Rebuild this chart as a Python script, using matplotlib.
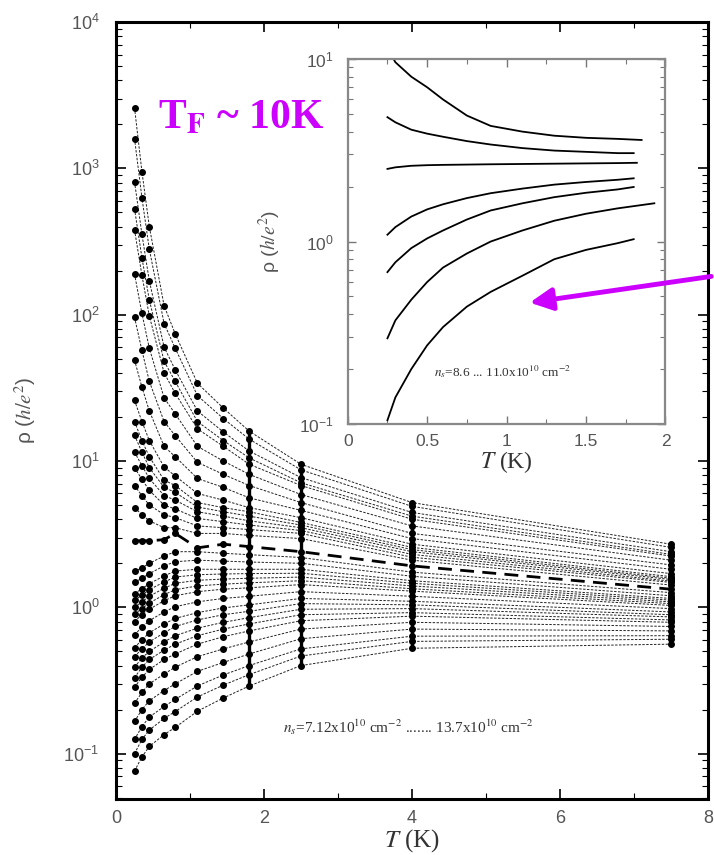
import numpy as np
import matplotlib
matplotlib.use("Agg")
import matplotlib.pyplot as plt
from matplotlib.ticker import LogLocator, NullFormatter, MultipleLocator

plt.rcParams['mathtext.fontset'] = 'stix'
plt.rcParams['font.family'] = ['Liberation Sans', 'DejaVu Sans']

# temperatures of the main plot (K)
T_main = [0.25, 0.35, 0.45, 0.65, 0.8, 1.1, 1.45, 1.8, 2.5, 4.0, 7.5]

# resistivity curves rho (h/e^2), from the most insulating to the most metallic
rho_main = [
    [2600, 950, 400, 115, 74, 34, 23, 16, 9.5, 5.2, 2.7],
    [1600, 630, 280, 87, 59, 28, 19.5, 14.1, 8.7, 4.9, 2.57],
    [810, 355, 170, 60, 42, 22, 15.8, 11.7, 7.7, 4.45, 2.4],
    [530, 245, 126, 48, 35, 18.6, 13.8, 10.5, 7.1, 4.2, 2.3],
    [380, 186, 98, 40, 29, 16.6, 12.6, 9.5, 6.8, 4.0, 2.24],
    [190, 102, 59, 27, 21, 12.6, 10, 8.1, 5.9, 3.6, 2.1],
    [96, 57, 35, 18.6, 14.9, 9.8, 8.1, 6.8, 5.2, 3.2, 1.95],
    [49, 32, 22, 12.6, 10.7, 7.6, 6.6, 5.6, 4.6, 2.95, 1.82],
    [26, 18.6, 13.8, 9.1, 7.9, 6.0, 5.4, 4.8, 4.1, 2.7, 1.70],
    [18.6, 13.8, 10.7, 7.4, 6.8, 5.2, 4.8, 4.5, 3.8, 2.57, 1.62],
    [15, 11.5, 9.0, 6.6, 6.1, 4.85, 4.5, 4.2, 3.65, 2.48, 1.58],
    [11.5, 9.3, 7.6, 5.8, 5.4, 4.5, 4.2, 3.9, 3.5, 2.4, 1.55],
    [9.0, 7.5, 6.3, 5.0, 4.7, 4.05, 3.85, 3.65, 3.35, 2.3, 1.51],
    [6.8, 5.8, 5.0, 4.3, 4.1, 3.6, 3.5, 3.4, 3.2, 2.2, 1.48],
    [4.8, 4.3, 3.9, 3.5, 3.5, 3.2, 3.2, 3.1, 2.95, 2.1, 1.42],
    [2.85, 2.85, 2.85, 2.9, 3.2, 2.55, 2.7, 2.6, 2.4, 1.92, 1.33],
    [1.76, 1.86, 2.0, 2.24, 2.4, 2.4, 2.34, 2.29, 2.19, 1.74, 1.26],
    [1.48, 1.58, 1.7, 1.92, 2.05, 2.1, 2.07, 2.04, 2.0, 1.63, 1.2],
    [1.24, 1.34, 1.45, 1.64, 1.77, 1.82, 1.82, 1.82, 1.82, 1.52, 1.15],
    [1.12, 1.21, 1.32, 1.49, 1.61, 1.67, 1.69, 1.70, 1.71, 1.46, 1.12],
    [1.0, 1.09, 1.19, 1.35, 1.46, 1.53, 1.56, 1.58, 1.61, 1.40, 1.09],
    [0.9, 0.98, 1.07, 1.22, 1.32, 1.40, 1.44, 1.47, 1.52, 1.34, 1.06],
    [0.80, 0.89, 0.97, 1.11, 1.20, 1.28, 1.33, 1.36, 1.43, 1.29, 1.03],
    [0.65, 0.73, 0.81, 0.93, 1.01, 1.09, 1.15, 1.19, 1.28, 1.19, 0.98],
    [0.53, 0.60, 0.67, 0.77, 0.84, 0.92, 0.99, 1.04, 1.15, 1.10, 0.93],
    [0.46, 0.52, 0.58, 0.67, 0.74, 0.82, 0.89, 0.94, 1.06, 1.04, 0.89],
    [0.39, 0.45, 0.50, 0.58, 0.64, 0.72, 0.79, 0.85, 0.97, 0.98, 0.86],
    [0.33, 0.39, 0.44, 0.51, 0.56, 0.64, 0.71, 0.77, 0.89, 0.92, 0.82],
    [0.284, 0.333, 0.376, 0.44, 0.48, 0.56, 0.63, 0.69, 0.81, 0.87, 0.79],
    [0.221, 0.262, 0.30, 0.35, 0.39, 0.46, 0.52, 0.58, 0.71, 0.79, 0.74],
    [0.166, 0.20, 0.23, 0.27, 0.30, 0.365, 0.42, 0.48, 0.61, 0.71, 0.69],
    [0.125, 0.153, 0.178, 0.21, 0.235, 0.29, 0.345, 0.40, 0.52, 0.635, 0.64],
    [0.10, 0.125, 0.145, 0.174, 0.194, 0.244, 0.294, 0.347, 0.465, 0.585, 0.605],
    [0.076, 0.095, 0.112, 0.135, 0.151, 0.195, 0.24, 0.29, 0.40, 0.525, 0.56],
]
critical_idx = 15  # the dashed separatrix curve
dense_T = [1.8, 2.5, 4.0, 7.5]

# inset data
T_inset = [0.25, 0.3, 0.4, 0.5, 0.6, 0.75, 0.9, 1.1, 1.3, 1.5, 1.7, 1.85]
T_inset_last = [1.85, 1.8, 1.82, 1.8, 1.8, 1.93, 1.8]
rho_inset = [
    [11.5, 9.6, 8.0, 7.0, 6.0, 4.9, 4.3, 4.0, 3.8, 3.7, 3.65, 3.6],
    [4.8, 4.5, 4.1, 3.9, 3.75, 3.55, 3.4, 3.25, 3.15, 3.1, 3.05, 3.05],
    [2.5, 2.55, 2.6, 2.62, 2.63, 2.64, 2.65, 2.66, 2.67, 2.68, 2.69, 2.7],
    [1.09, 1.2, 1.37, 1.5, 1.6, 1.73, 1.84, 1.95, 2.05, 2.12, 2.18, 2.22],
    [0.68, 0.77, 0.92, 1.04, 1.15, 1.32, 1.48, 1.62, 1.75, 1.85, 1.93, 1.99],
    [0.295, 0.37, 0.48, 0.6, 0.72, 0.86, 1.0, 1.15, 1.3, 1.42, 1.52, 1.62],
    [0.105, 0.14, 0.2, 0.27, 0.34, 0.44, 0.53, 0.65, 0.8, 0.9, 0.98, 1.03],
]

grey = '#555555'
fig = plt.figure(figsize=(7.14, 8.55), dpi=100)

# ---------------- main axes
ax = fig.add_axes([0.1625, 0.0655, 0.829, 0.9087])
for i, r in enumerate(rho_main):
    if i == critical_idx:
        ax.plot(T_main, r, color='black', lw=2.0, ls=(0, (5, 3)),
                marker='o', ms=4, zorder=4)
    else:
        ax.plot(T_main, r, color='#222222', lw=0.7, ls=(0, (2.5, 1.5)),
                marker='o', ms=4, mfc='black', mec='black', zorder=3)

cols = np.array(rho_main)
for t in dense_T:
    j = T_main.index(t)
    ax.vlines(t, cols[:, j].min(), cols[:, j].max(), color='black', lw=2.4, zorder=5)

ax.set_yscale('log')
ax.set_xlim(0, 8)
ax.set_ylim(10 ** -1.31, 1e4)
ax.xaxis.set_major_locator(MultipleLocator(2))
ax.xaxis.set_minor_locator(MultipleLocator(1))
ax.yaxis.set_major_locator(LogLocator(base=10, numticks=10))
ax.yaxis.set_minor_locator(LogLocator(base=10, subs=np.arange(2, 10), numticks=20))
ax.yaxis.set_minor_formatter(NullFormatter())
ax.tick_params(which='both', direction='in', top=True, right=True, colors='black',
               labelcolor=grey)
ax.tick_params(which='major', length=7, width=1.2, labelsize=13)
ax.tick_params(which='minor', length=4, width=0.8)
ax.tick_params(axis='y', pad=12)
ax.tick_params(axis='x', pad=8)
for s in ax.spines.values():
    s.set_linewidth(2.2)

ax.set_xlabel(r'$T$ (K)', family='Liberation Serif', fontsize=18, color='#333333', labelpad=0)
ax.set_ylabel(r'ρ ($h/e^2$)', fontsize=15, color=grey)
ax.yaxis.set_label_coords(-0.132, 0.50)

ax.text(0.282, 0.085, r'$n_s$=7.12x10$^{10}$ cm$^{-2}$ ....... 13.7x10$^{10}$ cm$^{-2}$',
        transform=ax.transAxes, family='Liberation Serif', fontsize=11, color='#333333')

# ---------------- inset
axi = fig.add_axes([0.487, 0.504, 0.445, 0.427])
for r, tl in zip(rho_inset, T_inset_last):
    tt = T_inset[:-1] + [tl]
    axi.plot(tt, r, color='black', lw=1.3)
axi.set_yscale('log')
axi.set_xlim(0, 2)
axi.set_ylim(0.1, 10)
axi.xaxis.set_major_locator(MultipleLocator(0.5))
axi.xaxis.set_minor_locator(MultipleLocator(0.25))
axi.xaxis.set_major_formatter(plt.FuncFormatter(lambda v, p: '%g' % v))
axi.yaxis.set_minor_locator(LogLocator(base=10, subs=np.arange(2, 10), numticks=20))
axi.yaxis.set_minor_formatter(NullFormatter())
axi.tick_params(which='both', direction='in', top=True, right=True, colors='#777777',
                labelcolor=grey)
axi.tick_params(which='major', length=6, width=1.0, labelsize=12.5)
axi.tick_params(which='minor', length=3.5, width=0.8)
axi.tick_params(axis='y', pad=10)
axi.tick_params(axis='x', pad=7)
for s in axi.spines.values():
    s.set_linewidth(1.6)
    s.set_color('#888888')
axi.set_xlabel(r'$T$ (K)', family='Liberation Serif', fontsize=17, color='#333333', labelpad=0)
axi.set_ylabel(r'ρ ($h/e^2$)', fontsize=14, color=grey)
axi.yaxis.set_label_coords(-0.205, 0.50)
axi.text(0.27, 0.13, r'$n_s$=8.6 ... 11.0x10$^{10}$ cm$^{-2}$',
         transform=axi.transAxes, family='Liberation Serif', fontsize=9.5, color='#333333')

# ---------------- annotations
fig.text(158 / 714, 1 - 128 / 855, r'T$_\mathbf{F}$ ~ 10K', family='Liberation Serif',
         fontweight='bold', fontsize=30, color='#cc00ff')
fig.add_artist(matplotlib.patches.FancyArrowPatch(
    (714 / 714, 1 - 276 / 855), (527 / 714, 1 - 303 / 855),
    transform=fig.transFigure, arrowstyle='-|>', mutation_scale=34,
    color='#cc00ff', lw=3.5, zorder=10))

fig.savefig('out.png', dpi=100)
